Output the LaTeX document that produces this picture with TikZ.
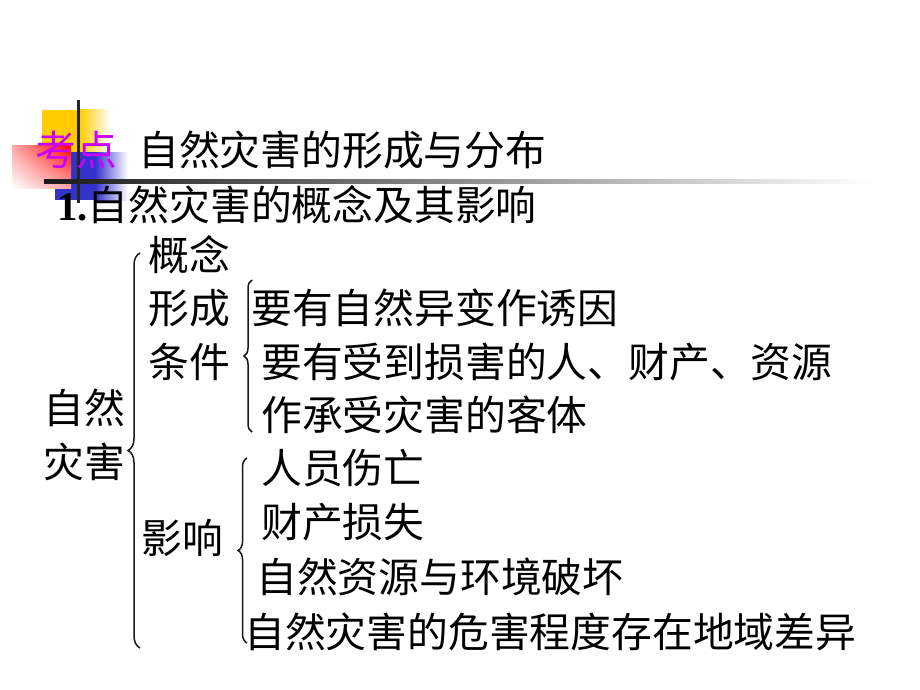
\documentclass[tikz,border=0pt]{standalone}
\usepackage{fontspec}
\newfontfamily\cjk{Noto Sans CJK SC}
\newfontfamily\tnr{Liberation Serif}
\usetikzlibrary{decorations.pathreplacing,shadings}
\definecolor{kdmag}{RGB}{204,0,255}
\definecolor{kdyel}{RGB}{255,204,0}
\definecolor{kdblue}{RGB}{51,51,204}
\definecolor{kdred}{RGB}{255,0,0}
\tikzset{
  txt/.style={anchor=west,inner sep=0pt,font=\cjk\fontsize{40.8}{48}\selectfont},
  brc/.style={decorate,line width=1.5pt,black!90},
}
\begin{document}
\begin{tikzpicture}[x=1pt,y=-1pt]
\useasboundingbox[fill=white] (0,0) rectangle (920,690);
% decoration squares
\fill[kdyel] (42,110) rectangle (80,156);
\shade[left color=kdyel,right color=white] (80,110) rectangle (110,156);
\fill[kdblue] (55,152) rectangle (95,200);
\shade[left color=kdblue,right color=white] (95,152) rectangle (128,200);
\shade[upper left=kdred!35,upper right=kdred,lower left=white,lower right=kdred!35] (12,145) rectangle (71,188);
% lines
\fill[black!85] (76.5,100) rectangle (79.5,203);
\shade[left color=black!90,right color=white] (44,179) rectangle (873,183);
% texts
\node[txt,text=kdmag] (kd) at (35,150) {考点};
\node[txt] (title) at (138,150) {自然灾害的形成与分布};
\node[txt] (sub) at (57,205) {{\tnr\bfseries 1.}自然灾害的概念及其影响};
\node[txt] (gn) at (148,255) {概念};
\node[txt] (xc) at (148,308) {形成};
\node[txt] (tj) at (148,362) {条件};
\node[txt] (zr) at (43,408) {自然};
\node[txt] (zh) at (43,462) {灾害};
\node[txt] (yx) at (141,538) {影响};
\node[txt] (c1) at (251,308) {要有自然异变作诱因};
\node[txt] (c2) at (261,362) {要有受到损害的人、财产、资源};
\node[txt] (c3) at (261,415) {作承受灾害的客体};
\node[txt] (i1) at (261,468) {人员伤亡};
\node[txt] (i2) at (261,522) {财产损失};
\node[txt] (i3) at (256,577) {自然资源与环境破坏};
\node[txt] (i4) at (244,632) {自然灾害的危害程度存在地域差异};
% braces
\coordinate (b1s) at (140,648);
\coordinate (b1e) at (140,253);
\coordinate (b2s) at (252,432);
\coordinate (b2e) at (252,280);
\coordinate (b3s) at (247,643);
\coordinate (b3e) at (247,458);
\draw[brc,decoration={brace,amplitude=12pt}] (b1s) -- (b1e);
\draw[brc,decoration={brace,amplitude=8pt}] (b2s) -- (b2e);
\draw[brc,decoration={brace,amplitude=9pt}] (b3s) -- (b3e);
\end{tikzpicture}
\end{document}
